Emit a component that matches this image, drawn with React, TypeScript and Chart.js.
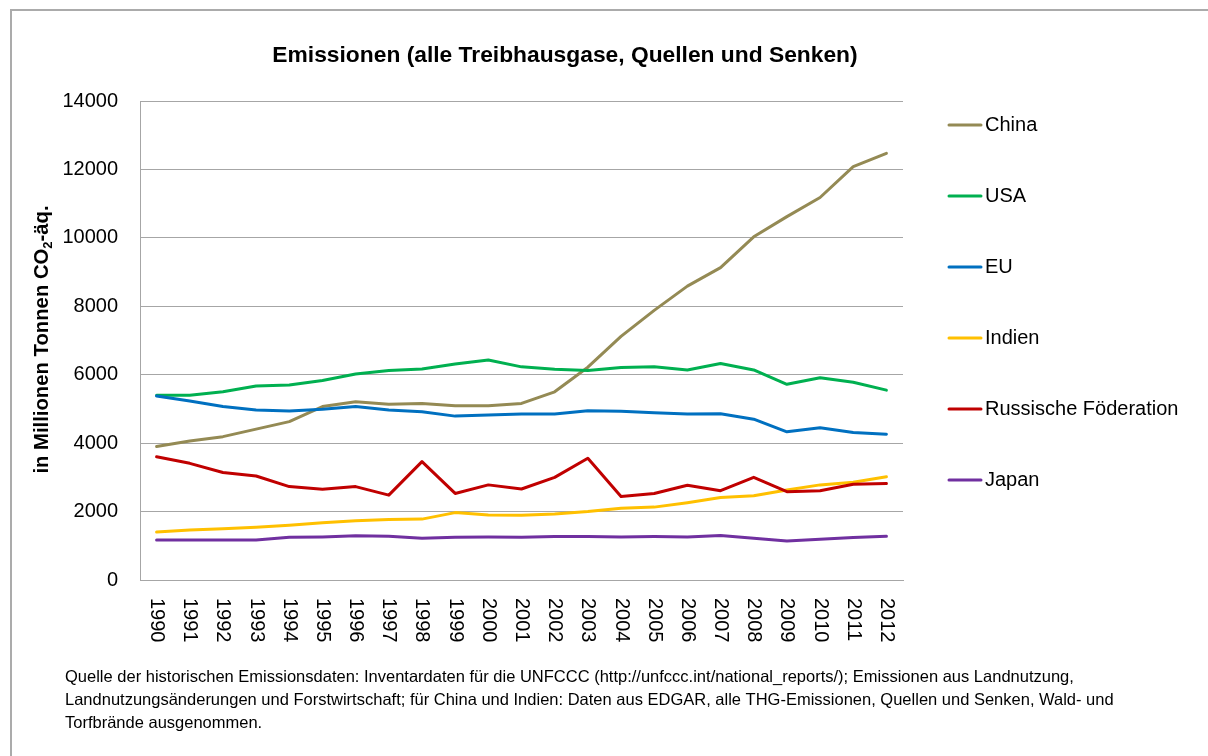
import React, { useEffect, useRef } from 'react';
import { Chart, registerables } from 'chart.js';

Chart.register(...registerables);

const years = ['1990','1991','1992','1993','1994','1995','1996','1997','1998','1999','2000','2001','2002','2003','2004','2005','2006','2007','2008','2009','2010','2011','2012'];

const china = [3900, 4060, 4190, 4410, 4630, 5070, 5210, 5140, 5160, 5090, 5090, 5160, 5500, 6220, 7120, 7880, 8590, 9130, 10030, 10620, 11180, 12080, 12470];
const usa = [5400, 5400, 5500, 5670, 5700, 5830, 6020, 6120, 6170, 6310, 6430, 6230, 6160, 6120, 6210, 6230, 6140, 6330, 6140, 5720, 5910, 5780, 5550];
const eu = [5380, 5230, 5070, 4970, 4940, 4990, 5070, 4970, 4920, 4790, 4820, 4850, 4850, 4950, 4930, 4890, 4850, 4860, 4700, 4330, 4450, 4310, 4260];
const indien = [1400, 1460, 1500, 1540, 1600, 1670, 1730, 1770, 1780, 1970, 1900, 1890, 1930, 2000, 2100, 2130, 2260, 2410, 2460, 2630, 2780, 2860, 3020];
const russland = [3600, 3410, 3140, 3040, 2730, 2650, 2730, 2480, 3460, 2530, 2780, 2660, 3000, 3560, 2440, 2530, 2770, 2610, 3000, 2580, 2610, 2800, 2820];
const japan = [1170, 1170, 1170, 1170, 1250, 1260, 1290, 1280, 1220, 1250, 1260, 1250, 1270, 1270, 1260, 1270, 1260, 1300, 1220, 1140, 1190, 1240, 1280];

const seriesNames = ['China', 'USA', 'EU', 'Indien', 'Russische Föderation', 'Japan'];
const seriesValues = [china, usa, eu, indien, russland, japan];
const seriesColors = ['#948A54', '#00B050', '#0070C0', '#FFC000', '#C00000', '#7030A0'];

const yMin = 0;
const yMax = 14000;
const yStep = 2000;

const titleText = 'Emissionen (alle Treibhausgase, Quellen und Senken)';
const yTitleMain = 'in Millionen Tonnen CO';
const yTitleSub = '2';
const yTitleEnd = '-äq.';
const footnoteLines = [
  'Quelle der historischen Emissionsdaten: Inventardaten für die UNFCCC (http://unfccc.int/national_reports/); Emissionen aus Landnutzung,',
  'Landnutzungsänderungen und Forstwirtschaft; für China und Indien: Daten aus EDGAR, alle THG-Emissionen, Quellen und Senken, Wald- und',
  'Torfbrände ausgenommen.',
];

const FONT = '"Liberation Sans", Arial, sans-serif';
const GRID = '#A6A6A6';

const decorPlugin = {
  id: 'decor',
  beforeDraw(chart: any) {
    const ctx = chart.ctx;
    ctx.save();
    ctx.fillStyle = '#ffffff';
    ctx.fillRect(0, 0, chart.width, chart.height);
    ctx.strokeStyle = '#ABABAB';
    ctx.lineWidth = 2;
    ctx.beginPath();
    ctx.moveTo(11, chart.height);
    ctx.lineTo(11, 10);
    ctx.lineTo(chart.width, 10);
    ctx.stroke();
    ctx.restore();
  },
  afterDraw(chart: any) {
    const ctx = chart.ctx;
    const xs = chart.scales.x;
    const area = chart.chartArea;
    ctx.save();
    // title
    ctx.fillStyle = '#000';
    ctx.font = `bold 22.8px ${FONT}`;
    ctx.textAlign = 'center';
    ctx.textBaseline = 'middle';
    ctx.fillText(titleText, 565, 56);

    // x labels rotated
    ctx.font = `20px ${FONT}`;
    years.forEach((lab, i) => {
      const x = xs.getPixelForTick(i);
      ctx.save();
      ctx.translate(x, area.bottom + 18);
      ctx.rotate(Math.PI / 2);
      ctx.textAlign = 'left';
      ctx.textBaseline = 'middle';
      ctx.fillText(lab, 0, 0);
      ctx.restore();
    });

    // y title with subscript
    const mainFont = `bold 20.3px ${FONT}`;
    const subFont = `bold 13px ${FONT}`;
    ctx.font = mainFont;
    const w1 = ctx.measureText(yTitleMain).width;
    const w3 = ctx.measureText(yTitleEnd).width;
    ctx.font = subFont;
    const w2 = ctx.measureText(yTitleSub).width;
    const total = w1 + w2 + w3;
    ctx.save();
    ctx.translate(42, (area.top + area.bottom) / 2 - 1);
    ctx.rotate(-Math.PI / 2);
    ctx.textAlign = 'left';
    ctx.textBaseline = 'middle';
    let cx = -total / 2;
    ctx.font = mainFont;
    ctx.fillText(yTitleMain, cx, 0);
    cx += w1;
    ctx.font = subFont;
    ctx.fillText(yTitleSub, cx, 6);
    cx += w2;
    ctx.font = mainFont;
    ctx.fillText(yTitleEnd, cx, 0);
    ctx.restore();

    // legend
    ctx.font = `20px ${FONT}`;
    ctx.textAlign = 'left';
    ctx.textBaseline = 'middle';
    chart.data.datasets.forEach((ds: any, i: number) => {
      const y = 125 + i * 71;
      ctx.strokeStyle = ds.borderColor;
      ctx.lineWidth = 3;
      ctx.lineCap = 'round';
      ctx.beginPath();
      ctx.moveTo(949, y);
      ctx.lineTo(981, y);
      ctx.stroke();
      ctx.fillStyle = '#000';
      ctx.fillText(ds.label, 985, y);
    });

    // footnote
    ctx.font = `16.5px ${FONT}`;
    ctx.fillStyle = '#000';
    footnoteLines.forEach((line, i) => {
      ctx.fillText(line, 65, 677 + i * 23);
    });
    ctx.restore();
  },
};

export default function App() {
  const ref = useRef<HTMLCanvasElement>(null);
  useEffect(() => {
    const chart = new Chart(ref.current as HTMLCanvasElement, {
      type: 'line',
      data: {
        labels: years,
        datasets: seriesNames.map((name, i) => ({
          label: name,
          data: seriesValues[i],
          borderColor: seriesColors[i],
          backgroundColor: seriesColors[i],
          borderWidth: 3,
          pointRadius: 0,
          tension: 0,
          borderJoinStyle: 'round' as const,
          borderCapStyle: 'round' as const,
          order: seriesNames.length - i,
        })),
      },
      options: {
        responsive: false,
        animation: false,
        devicePixelRatio: 1,
        layout: { padding: { left: 20, top: 101, right: 305, bottom: 0 } },
        plugins: {
          legend: { display: false },
          title: { display: false },
          tooltip: { enabled: false },
        },
        scales: {
          x: {
            type: 'category',
            offset: true,
            grid: { display: false, drawTicks: false },
            border: { display: true, color: GRID, width: 1 },
            ticks: { display: false },
            afterFit: (s: any) => { s.height = 176; },
          },
          y: {
            min: yMin,
            max: yMax,
            grid: { color: GRID, lineWidth: 1, drawTicks: false },
            border: { display: true, color: GRID, width: 1 },
            ticks: {
              stepSize: yStep,
              padding: 22,
              color: '#000',
              font: { family: FONT, size: 20 },
              callback: (v: any) => String(v),
            },
            afterFit: (s: any) => { s.width = 120; },
          },
        },
      },
      plugins: [decorPlugin],
    });
    return () => chart.destroy();
  }, []);
  return (
    <div style={{ position: 'absolute', left: 0, top: 0, width: 1208, height: 756, background: '#fff' }}>
      <canvas ref={ref} width={1208} height={756} style={{ display: 'block', width: 1208, height: 756 }} />
    </div>
  );
}
